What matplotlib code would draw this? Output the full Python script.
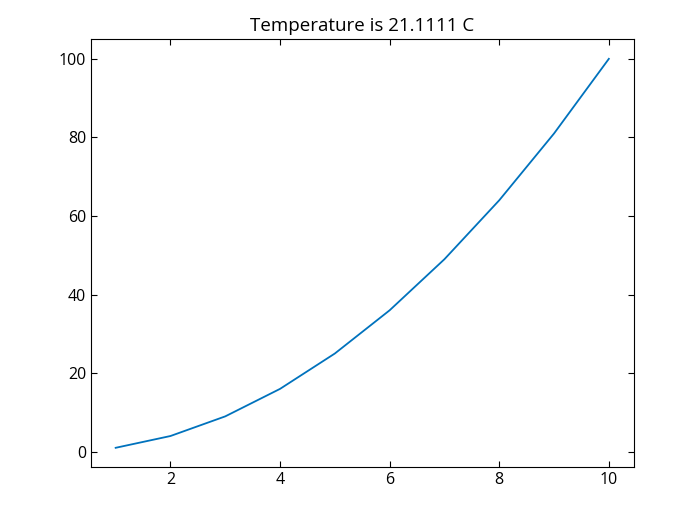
import numpy as np
import matplotlib.pyplot as plt

plt.rcParams['font.family'] = ['Open Sans', 'DejaVu Sans']

# values shown in the chart
x = [1, 2, 3, 4, 5, 6, 7, 8, 9, 10]
y = [1, 4, 9, 16, 25, 36, 49, 64, 81, 100]
temperature = 21.1111

fig = plt.figure(figsize=(7, 5.25), dpi=100)
ax = fig.add_axes([0.13, 0.11, 0.775, 0.815])
ax.plot(x, y, color='#0072BD', linewidth=1.3)

ax.tick_params(direction='in', top=True, right=True, labelsize=11.5, length=4, width=0.8)
for s in ax.spines.values():
    s.set_linewidth(0.8)
ax.set_title('Temperature is %g C' % temperature, fontsize=13.5)

fig.savefig('out.png')
